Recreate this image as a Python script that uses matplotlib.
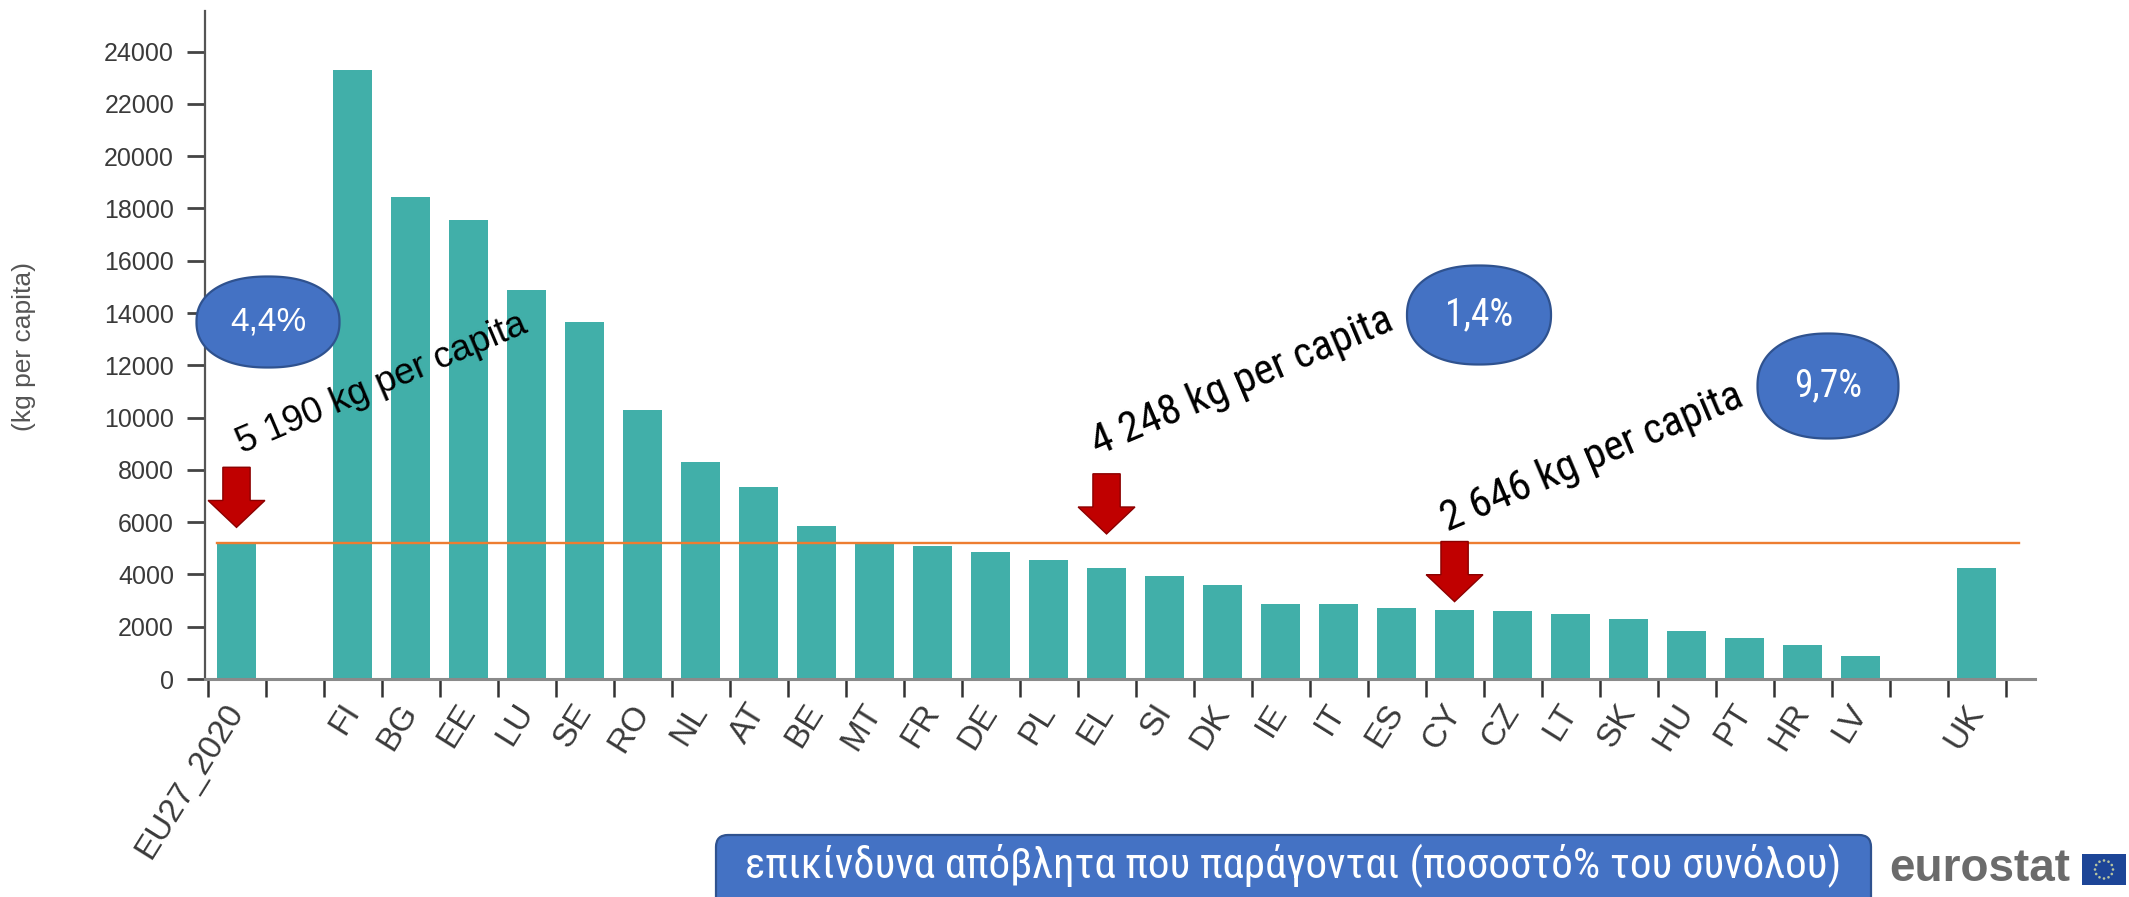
import matplotlib
matplotlib.use('Agg')
import matplotlib.pyplot as plt
from matplotlib.patches import FancyBboxPatch, FancyArrow, Rectangle, Circle, Polygon
from matplotlib import font_manager as fm
import numpy as np

# ---------------- data ----------------
categories = ['EU27_2020', '', 'FI', 'BG', 'EE', 'LU', 'SE', 'RO', 'NL', 'AT', 'BE',
              'MT', 'FR', 'DE', 'PL', 'EL', 'SI', 'DK', 'IE', 'IT', 'ES', 'CY', 'CZ',
              'LT', 'SK', 'HU', 'PT', 'HR', 'LV', '', 'UK']
values = [5190, None, 23300, 18450, 17550, 14900, 13650, 10300, 8300, 7350, 5870,
          5230, 5080, 4870, 4570, 4248, 3950, 3600, 2880, 2880, 2720, 2646, 2590,
          2500, 2280, 1850, 1550, 1300, 870, None, 4250]
eu_average = 5190
yticks = list(range(0, 24001, 2000))
y_label = '(kg per capita)'

arrow_targets = ['EU27_2020', 'EL', 'CY']
arrow_tips = [5800, 5550, 2960]

callout_texts = ['5 190 kg per capita', '4 248 kg per capita', '2 646 kg per capita']
bubble_texts = ['4,4%', '1,4%', '9,7%']
bottom_label = 'επικίνδυνα απόβλητα που παράγονται (ποσοστό% του συνόλου)'
logo_text = 'eurostat'

# ---------------- fonts ----------------
names = {f.name for f in fm.fontManager.ttflist}
narrow = None
for cand in ['Liberation Sans Narrow', 'Roboto Condensed', 'Open Sans Condensed']:
    if cand in names:
        narrow = cand
        break
base = 'Liberation Sans'
plt.rcParams['font.family'] = [base, 'DejaVu Sans']

W, H = 2129, 897
fig = plt.figure(figsize=(W / 100, H / 100), dpi=100)
fig.patch.set_facecolor('white')

# main axes
x0, x1 = -0.55, 31.0
ax = fig.add_axes([204.6 / W, 218 / H, 1830 / W, 668 / H])
ax.set_xlim(x0, x1)
ax.set_ylim(0, 25555)

bar_color = '#41AFA9'
xs = [i for i, v in enumerate(values) if v is not None]
hs = [v for v in values if v is not None]
ax.bar(xs, hs, width=0.66, color=bar_color, zorder=2)

# EU average line
ax.plot([-0.33, 30.73], [eu_average, eu_average], color='#ED7D31', lw=1.7, zorder=3)

# spines
for s in ['top', 'right']:
    ax.spines[s].set_visible(False)
ax.spines['left'].set_color('#555555')
ax.spines['left'].set_linewidth(1.6)
ax.spines['bottom'].set_color('#8a8a8a')
ax.spines['bottom'].set_linewidth(2.2)

# y ticks
ax.set_yticks(yticks)
ax.set_yticklabels([str(t) for t in yticks])
ax.tick_params(axis='y', length=13, width=2.0, color='#444444', pad=9,
               labelsize=18, labelcolor='#3a3a3a')

# x ticks: major at boundaries, labels (minor) at centres
n = len(categories)
ax.set_xticks(np.arange(n + 1) - 0.5)
ax.set_xticklabels([])
ax.tick_params(axis='x', which='major', length=13, width=1.8, color='#333333')
ax.set_xticks(np.arange(n), minor=True)
ax.set_xticklabels(categories, minor=True, rotation=58, ha='right', va='center',
                   rotation_mode='anchor', fontsize=24, color='#3a3a3a')
ax.tick_params(axis='x', which='minor', length=0, pad=20)

# red arrows
for cat, tip in zip(arrow_targets, arrow_tips):
    xi = categories.index(cat)
    length = 2300
    arr = FancyArrow(xi, tip + length, 0, -length, width=0.47, head_width=0.98,
                     head_length=1030, length_includes_head=True,
                     facecolor='#C00000', edgecolor='#8B0000', lw=1.0, zorder=5)
    ax.add_patch(arr)

# y label
fig.text(24 / W, 1 - 346 / H, y_label, rotation=90, ha='center', va='center',
         fontsize=19, color='#555555')

# ---------------- overlay (pixel coords, y down) ----------------
ov = fig.add_axes([0, 0, 1, 1], facecolor='none')
ov.set_xlim(0, W)
ov.set_ylim(H, 0)
ov.axis('off')

blue = '#4472C4'
edge = '#2F528F'

callout_pos = [(382, 384), (1242, 382), (1592, 458)]
for i, (t, (cx, cy)) in enumerate(zip(callout_texts, callout_pos)):
    if i == 0 or narrow is None:
        ov.text(cx, cy, t, rotation=23, ha='center', va='center', fontsize=26.5,
                color='black', family=[base, 'DejaVu Sans'], rotation_mode='anchor')
    else:
        ov.text(cx, cy, t, rotation=23, ha='center', va='center', fontsize=31,
                color='black', family=[narrow, base, 'DejaVu Sans'], rotation_mode='anchor')


def superellipse(cx, cy, a, b, p=2.25, m=240):
    t = np.linspace(0, 2 * np.pi, m, endpoint=False)
    c, s = np.cos(t), np.sin(t)
    x = cx + a * np.sign(c) * np.abs(c) ** (2 / p)
    y = cy + b * np.sign(s) * np.abs(s) ** (2 / p)
    return np.column_stack([x, y])


bubble_geo = [(268, 322, 143, 91), (1479, 315, 144, 99), (1828, 386, 141, 105)]
for i, (t, (cx, cy, bw, bh)) in enumerate(zip(bubble_texts, bubble_geo)):
    poly = Polygon(superellipse(cx, cy, bw / 2, bh / 2), closed=True,
                   facecolor=blue, edgecolor=edge, lw=1.6, zorder=10)
    ov.add_patch(poly)
    fam = [base, 'DejaVu Sans'] if (i == 0 or narrow is None) else [narrow, base, 'DejaVu Sans']
    fs = 24 if (i == 0 or narrow is None) else 27
    ov.text(cx, cy, t, ha='center', va='center', fontsize=fs, color='white',
            family=fam, zorder=11)

# bottom legend box
bx0, bx1, by0 = 716, 1871, 835
p = FancyBboxPatch((bx0, by0), bx1 - bx0, 80,
                   boxstyle='round,pad=0,rounding_size=12',
                   facecolor=blue, edgecolor=edge, lw=1.6, zorder=10)
ov.add_patch(p)
if narrow is not None:
    ov.text((bx0 + bx1) / 2, 866, bottom_label, ha='center', va='center', fontsize=31,
            color='white', family=[narrow, base, 'DejaVu Sans'], zorder=11)
else:
    ov.text((bx0 + bx1) / 2, 866, bottom_label, ha='center', va='center', fontsize=25,
            color='white', family=[base, 'DejaVu Sans'], zorder=11)

# eurostat logo
ov.text(1889, 869, logo_text, ha='left', va='center', fontsize=33, fontweight='bold',
        color='#6b6b6b', family=[base, 'DejaVu Sans'], zorder=11)
ov.add_patch(Rectangle((2082, 854), 44, 31, facecolor='#1d4597', edgecolor='none', zorder=11))
for k in range(12):
    a = 2 * np.pi * k / 12
    ov.add_patch(Circle((2104 + 9 * np.cos(a), 869.5 + 9 * np.sin(a)), 1.3,
                        facecolor='#b8c4a0', edgecolor='none', zorder=12))

fig.savefig('out.png', dpi=100, facecolor='white')
